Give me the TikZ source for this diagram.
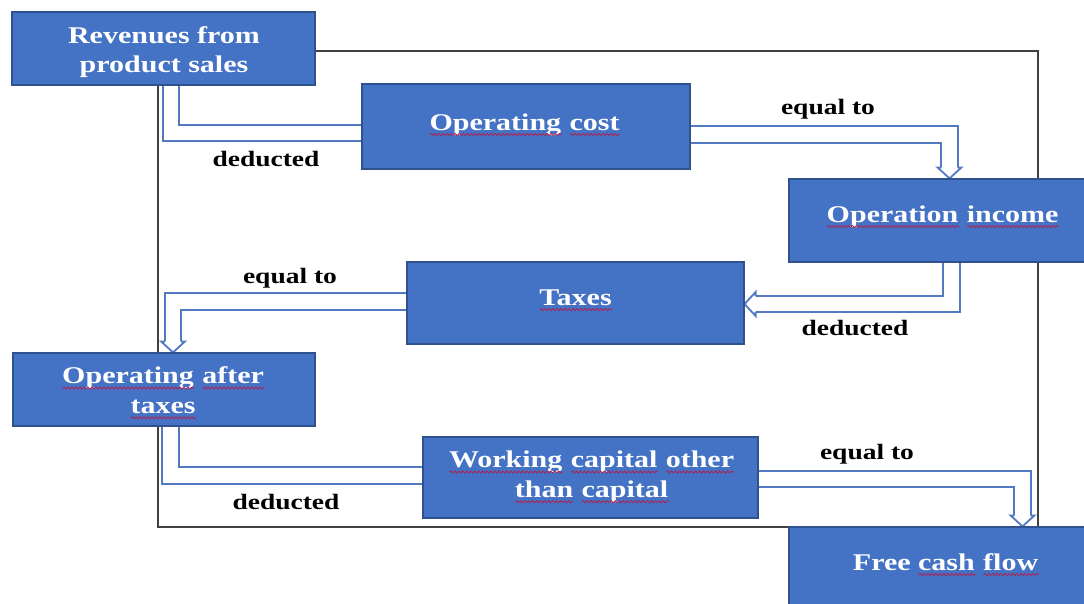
\documentclass[tikz,border=0pt]{standalone}
\usepackage{fontspec}
\usetikzlibrary{decorations.pathmorphing}
\newfontfamily\diagfont{Liberation Serif}[FakeStretch=1.25]
\definecolor{boxfill}{HTML}{4472C4}
\definecolor{boxedge}{HTML}{2F528F}
\definecolor{linkblue}{HTML}{5279C2}
\definecolor{squig}{HTML}{A8285A}
\pgfdeclarelayer{background}
\pgfsetlayers{background,main}
% wavy red underline under a word
\newlength\sqw
\newcommand\sq[1]{\settowidth\sqw{#1}\rlap{#1}\tikz[baseline=0pt, x=1pt, y=1pt]
  \draw[squig, line width=0.65pt, decorate, decoration={snake, amplitude=0.8pt, segment length=3pt}]
  (0,-3.4) -- (\sqw,-3.4);}

\begin{document}
\begin{tikzpicture}[x=0.75pt, y=-0.75pt,
  box/.style={draw=boxedge, line width=0.9pt, fill=boxfill, inner sep=0pt},
  boxwh/.style 2 args={minimum width=#1*0.75pt, minimum height=#2*0.75pt},
  boxtext/.style={text=white, font=\diagfont\bfseries\fontsize{18}{22.3}\selectfont, align=center, inner sep=0pt},
  lbl/.style={font=\diagfont\bfseries\fontsize{16.5}{20}\selectfont, inner sep=0pt, anchor=base},
  frameline/.style={draw=black!75, line width=1pt},
  link/.style={draw=linkblue, line width=1.35pt, double=white, double distance=10.9pt},
  headline/.style={draw=linkblue, line width=1.35pt, fill=white, line join=miter},
  hollowhead/.pic={\draw[headline] (-11,8.2) -- (-11,12) -- (0,0) -- (-11,-12) -- (-11,-8.2);}
]
\useasboundingbox (0,0) rectangle (1084,603);
\clip (0,0) rectangle (1084,603);

% boxes
\node[box, boxwh={303}{73}] (rev) at (163.5,48.5) {};
\node[box, boxwh={328}{85}] (oc)  at (526,126.5) {};
\node[box, boxwh={308}{83}] (oi)  at (943,220.5) {};
\node[box, boxwh={337}{82}] (tax) at (575.5,303) {};
\node[box, boxwh={302}{73}] (oat) at (164,389.5) {};
\node[box, boxwh={335}{81}] (wc)  at (590.5,477.5) {};
\node[box, boxwh={314}{85}] (fcf) at (946,569.5) {};

% bend points of the connectors
\coordinate (k1) at (171,133);
\coordinate (k2) at (949.5,134.5);
\coordinate (h2) at (949.5,168);
\coordinate (k3) at (951.5,304);
\coordinate (h3) at (755,304);
\coordinate (k4) at (173,301.5);
\coordinate (h4) at (173,342);
\coordinate (k5) at (170.5,475.5);
\coordinate (k6) at (1022.5,479);
\coordinate (h6) at (1022.5,516);

\begin{pgfonlayer}{background}
% outer frame
\draw[frameline] (158,51) rectangle (1038,527);
% connectors
\draw[link] (rev.south -| k1) |- (oc.west |- k1);
\draw[link] (oc.east |- k2) -| (h2);
\pic[rotate=-90] at (h2 |- oi.north) {hollowhead};
\draw[link] (oi.south -| k3) |- (h3);
\pic[rotate=180] at (tax.east |- k3) {hollowhead};
\draw[link] (tax.west |- k4) -| (h4);
\pic[rotate=-90] at (h4 |- oat.north) {hollowhead};
\draw[link] (oat.south -| k5) |- (wc.west |- k5);
\draw[link] (wc.east |- k6) -| (h6);
\pic[rotate=-90] at (h6 |- fcf.north) {hollowhead};
\end{pgfonlayer}

% box texts
\node[boxtext] (revt) at (164,52) {Revenues from\\product sales};
\node[boxtext, anchor=base] (oct) at (525,130) {\sq{Operating} \sq{cost}};
\node[boxtext, anchor=base] (oit) at (943,222) {\sq{Operation} \sq{income}};
\node[boxtext, anchor=base] (taxt) at (576,305) {\sq{Taxes}};
\node[boxtext] (oatt) at (163.5,393) {\sq{Operating} \sq{after}\\\sq{taxes}};
\node[boxtext] (wct) at (592,477) {\sq{Working} \sq{capital} \sq{other}\\\sq{than} \sq{capital}};
\node[boxtext, anchor=base] (fcft) at (946,570) {Free \sq{cash} \sq{flow}};

% connector labels
\node[lbl] (l1) at (266,166) {deducted};
\node[lbl] (l2) at (828,114) {equal to};
\node[lbl] (l3) at (855,335) {deducted};
\node[lbl] (l4) at (290,283) {equal to};
\node[lbl] (l5) at (286,509) {deducted};
\node[lbl] (l6) at (867,459) {equal to};
\end{tikzpicture}
\end{document}
